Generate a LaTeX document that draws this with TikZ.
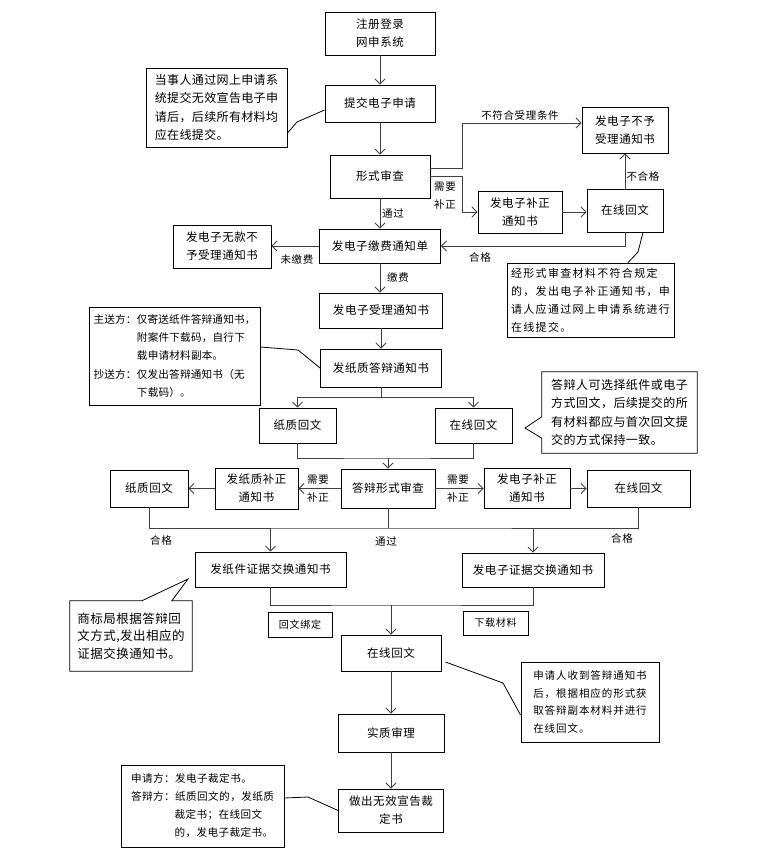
\documentclass[tikz,border=0pt]{standalone}
\usepackage{fontspec}
\setmainfont{Noto Sans CJK SC}
\usetikzlibrary{arrows.meta,calc}
\newcommand{\bxfont}{\fontsize{11.5}{18}\selectfont\addfontfeature{LetterSpace=5}}
\newcommand{\lbfont}{\fontsize{10.5}{18}\selectfont\addfontfeature{LetterSpace=6}}
\newcommand{\sbfont}{\fontsize{10}{14}\selectfont\addfontfeature{LetterSpace=8}}
\begin{document}
\begin{tikzpicture}[x=1pt,y=-1pt,
  bx/.style={draw=black, line width=0.9pt, fill=white, inner sep=1pt, align=center, font=\bxfont},
  sbx/.style={draw=black, line width=0.9pt, fill=white, inner sep=1pt, align=center, font=\sbfont},
  cbx/.style={draw=black, line width=0.9pt, fill=white, inner sep=1pt, align=left},
  tbx/.style={draw=none, inner sep=1pt, align=left},
  lab/.style={inner sep=0pt, align=center, font=\lbfont},
  arr/.style={draw=black!75, line width=0.8pt, -{Straight Barb[length=5pt,width=10pt]}},
  ln/.style={draw=black!75, line width=0.8pt},
  tl/.style={draw=black, line width=0.8pt}]
\useasboundingbox (0,0) rectangle (782,865);

% main boxes
\node[bx,minimum width=110,minimum height=43] (n1) at (380,33.5) {注册登录\\网申系统};
\node[bx,minimum width=110,minimum height=37] (n2) at (380,103.5) {提交电子申请};
\node[bx,minimum width=100,minimum height=43] (n3) at (380,176.5) {形式审查};
\node[bx,minimum width=86,minimum height=46] (n4) at (625,130) {发电子不予\\受理通知书};
\node[bx,minimum width=84,minimum height=42] (n5) at (520,212) {发电子补正\\通知书};
\node[bx,minimum width=76,minimum height=43] (n6) at (625,210.5) {在线回文};
\node[bx,minimum width=121,minimum height=34] (n7) at (380,246) {发电子缴费通知单};
\node[bx,minimum width=98,minimum height=43] (n8) at (222,246.5) {发电子无款不\\予受理通知书};
\node[bx,minimum width=123,minimum height=35] (n9) at (381,310.5) {发电子受理通知书};
\node[bx,minimum width=121,minimum height=38] (n10) at (381,368) {发纸质答辩通知书};
\node[bx,minimum width=77,minimum height=35] (n11) at (297.5,425.5) {纸质回文};
\node[bx,minimum width=77,minimum height=35] (n12) at (473.5,425.5) {在线回文};
\node[bx,minimum width=94,minimum height=39] (n13) at (388,488.5) {答辩形式审查};
\node[bx,minimum width=83,minimum height=41] (n14) at (256.5,488.5) {发纸质补正\\通知书};
\node[bx,minimum width=78,minimum height=37] (n15) at (149,488.5) {纸质回文};
\node[bx,minimum width=86,minimum height=40] (n16) at (527,488.5) {发电子补正\\通知书};
\node[bx,minimum width=103,minimum height=37] (n17) at (638.5,488.5) {在线回文};
\node[bx,minimum width=151,minimum height=35] (n18) at (270.5,569.5) {发纸件证据交换通知书};
\node[bx,minimum width=142,minimum height=34] (n19) at (533,570) {发电子证据交换通知书};
\node[sbx,minimum width=64,minimum height=25] (n20) at (300,624.5) {回文绑定};
\node[sbx,minimum width=65,minimum height=24] (n21) at (495.5,623) {下载材料};
\node[bx,minimum width=100,minimum height=36] (n22) at (391,653) {在线回文};
\node[bx,minimum width=106,minimum height=38] (n23) at (391,733) {实质审理};
\node[bx,minimum width=105,minimum height=43] (n24) at (391,810.5) {做出无效宣告裁\\定书};

% callouts
\node[cbx,minimum width=141,minimum height=79,font={\fontsize{12}{18.3}\selectfont\addfontfeature{LetterSpace=3}}] (c1) at (216.5,107.5)
  {当事人通过网上申请系\\统提交无效宣告电子申\\请后，后续所有材料均\\应在线提交。};
\node[cbx,minimum width=167,minimum height=74,font={\fontsize{11}{18}\selectfont\addfontfeature{LetterSpace=12}}] (c2) at (590.5,300)
  {经形式审查材料不符合规定\\的，发出电子补正通知书，申\\请人应通过网上申请系统进行\\在线提交。};
\node[cbx,minimum width=171,minimum height=98,font={\fontsize{10.6}{18.3}\selectfont\addfontfeature{LetterSpace=2}}] (c3) at (174.5,356)
  {主送方：仅寄送纸件答辩通知书，\\\hspace*{4.1em}附案件下载码，自行下\\\hspace*{4.1em}载申请材料副本。\\抄送方：仅发出答辩通知书（无\\\hspace*{4.1em}下载码）。};
\node[tbx,minimum width=155,minimum height=81,font={\fontsize{12}{18.3}\selectfont\addfontfeature{LetterSpace=4}}] (c4) at (619.5,412.5)
  {答辩人可选择纸件或电子\\方式回文，后续提交的所\\有材料都应与首次回文提\\交的方式保持一致。};
\node[tbx,minimum width=122,minimum height=70,font={\fontsize{12.5}{17.7}\selectfont\addfontfeature{LetterSpace=4}}] (c5) at (131,636)
  {商标局根据答辩回\\文方式,发出相应的\\证据交换通知书。};
\node[cbx,minimum width=138,minimum height=80,font={\fontsize{10.5}{17.8}\selectfont\addfontfeature{LetterSpace=9}}] (c6) at (590,702)
  {申请人收到答辩通知书\\后，根据相应的形式获\\取答辩副本材料并进行\\在线回文。};
\node[cbx,minimum width=163,minimum height=82,font={\fontsize{10.6}{18}\selectfont\addfontfeature{LetterSpace=4}}] (c7) at (202.5,806)
  {申请方：发电子裁定书。\\答辩方：纸质回文的，发纸质\\\hspace*{4.1em}裁定书；在线回文\\\hspace*{4.1em}的，发电子裁定书。};

% callout outlines with pointers
\draw[tl] (c4.south west) -- ([yshift=15pt]c4.south west) -- (525,428) -- ([yshift=-45pt]c4.north west)
  -- (c4.north west) -- (c4.north east) -- (c4.south east) -- cycle;
\draw[tl] (c5.north west) -- ([xshift=72pt]c5.north west) -- (188,579) -- ([xshift=102pt]c5.north west)
  -- (c5.north east) -- (c5.south east) -- (c5.south west) -- cycle;
\draw[tl] ([yshift=-25.5pt]c1.east) -- (297,122) -- ([yshift=-6.5pt]n2.west);
\draw[tl] ([xshift=18pt]n6.south) -- (638,252) -- ([xshift=37.5pt]c2.north);
\draw[tl] ([yshift=9pt]c3.east) -- (298,350) -- (n10.west);
\draw[tl] ([shift={(4pt,-9pt)}]n22.east) -- (503,683) -- ([yshift=-13pt]c6.west);
\draw[tl] ([yshift=8pt]c7.east) -- (308,797) -- (n24.west);

% labels
\node[lab] (l1) at (520,115) {不符合受理条件};
\node[lab] (l2) at (445,196) {需要\\补正};
\node[lab] (l3) at (643,176) {不合格};
\node[lab] (l4) at (480,257) {合格};
\node[lab] (l5) at (393,213) {通过};
\node[lab] (l6) at (297,259) {未缴费};
\node[lab] (l7) at (398,277) {缴费};
\node[lab] (l8) at (318,488.5) {需要\\补正};
\node[lab] (l9) at (458,488.5) {需要\\补正};
\node[lab] (l10) at (161,540) {合格};
\node[lab] (l11) at (386,541) {通过};
\node[lab] (l12) at (622,538) {合格};

% connectors
\draw[arr] (n1.south) -- (n2.north);
\draw[arr] (n2.south) -- (n3.north);
\draw[arr] ([yshift=8.5pt]n3.east) -- ++(32,0) |- ([yshift=7pt]n4.west);
\draw[arr] (n3.east) -- ++(32,0) |- (n5.west);
\draw[arr] (n5.east) -- (n5.east -| n6.west);
\draw[arr] (n6.north) -- (n4.south);
\draw[arr] (n6.south) |- (n7.east);
\draw[arr] (n3.south) -- (n7.north);
\draw[arr] (n7.west) -- (n7.west -| n8.east);
\draw[arr] (n7.south) -- (n7.south |- n9.north);
\draw[arr] (n9.south) -- (n10.north);
\coordinate (j1) at (381,397);
\draw[ln] (n10.south) -- (j1);
\draw[arr] (j1) -| (n11.north);
\draw[arr] (j1) -| (n12.north);
\coordinate (j2) at (388,458);
\draw[ln] (n11.south) |- (j2) -| (n12.south);
\draw[arr] (j2) -- (n13.north);
\draw[arr] (n13.west) -- (n14.east);
\draw[arr] (n14.west) -- (n15.east);
\draw[arr] (n13.east) -- (n16.west);
\draw[arr] (n16.east) -- (n17.west);
\coordinate (j3) at (388,528);
\draw[ln] (n15.south) |- (j3) -| (n17.south);
\draw[ln] (n13.south) -- (j3);
\coordinate (j3a) at (270.5,528);
\coordinate (j3b) at (533,528);
\draw[arr] (j3a) -- (n18.north);
\draw[arr] (j3b) -- (n19.north);
\coordinate (j4) at (391,605);
\draw[ln] (n18.south) |- (j4) -| (n19.south);
\draw[arr] (j4) -- (n22.north);
\draw[arr] (n22.south) -- (n23.north);
\draw[arr] (n23.south) -- (n24.north);
\end{tikzpicture}
\end{document}
